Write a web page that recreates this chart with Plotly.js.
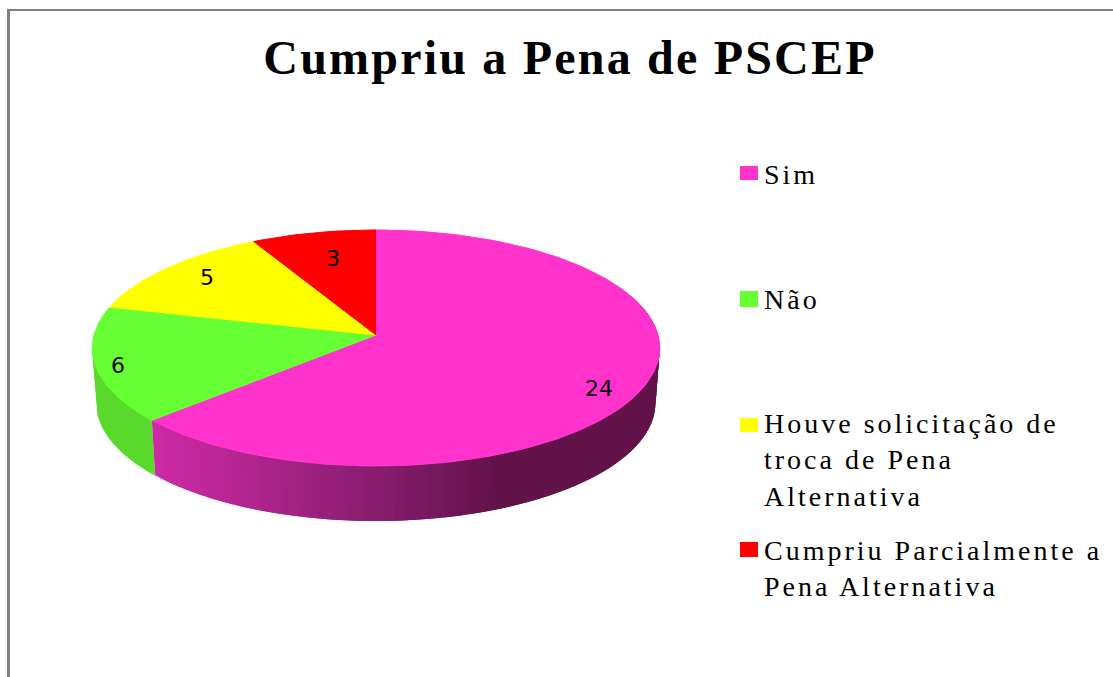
<!DOCTYPE html>
<html>
<head>
<meta charset="utf-8">
<script src="https://cdn.plot.ly/plotly-3.0.1.min.js"></script>
<style>
body{margin:0;background:#fff;}
#graph{width:1113px;height:677px;}
/* the original text is stretched sideways */
.gtitle{letter-spacing:2.2px;}
.annotation[data-index="4"] text,
.annotation[data-index="5"] text,
.annotation[data-index="6"] text,
.annotation[data-index="7"] text{letter-spacing:3px;}
</style>
</head>
<body>
<div id="graph"></div>
<script>
const categories = ["Sim", "Não", "Houve solicitação de<br>troca de Pena<br>Alternativa", "Cumpriu Parcialmente a<br>Pena Alternativa"];
const values = [24, 6, 5, 3];
const sliceColors = ["#FF33CC", "#66FF33", "#FFFF00", "#FF0000"];
const wallGreen = "#58D92C";

// the tilted disc: pixel centre, radius, perspective and wall height
const cx = 376, cy = 335, sx = 282, sy = 116.6, persp = 0.11, wall = 55;
const labelRadius = [0.83, 0.92, 0.8, 0.66];
const labelShift = [-13, -3, 3, 7];
const legendY = [173, 299, 425, 549.5];
const legendH = [14, 16, 14, 15];
const legendTextY = [174, 299, 460, 568];

const total = values.reduce((a, b) => a + b, 0);
let bounds = [0];
values.forEach(v => bounds.push(bounds[bounds.length - 1] + v / total * 360));

// angle in degrees, clockwise from the top of the disc
function rim(deg, r, drop) {
    let t = deg * Math.PI / 180;
    let u = Math.sin(t) * r, v = Math.cos(t) * r;
    let k = drop ? 0.985 : 1;
    return [cx + k * sx * u / (1 + persp * v), cy - sy * v / (1 + persp * v) + drop];
}

function arc(from, to, drop) {
    let pts = [];
    let n = Math.max(2, Math.ceil(Math.abs(to - from) / 1.5));
    for (let i = 0; i <= n; i++) pts.push(rim(from + (to - from) * i / n, 1, drop));
    return pts;
}

function polygon(pts, color, width) {
    return {
        x: pts.map(p => p[0]),
        y: pts.map(p => p[1]),
        type: "scatter",
        mode: "lines",
        fill: "toself",
        fillcolor: color,
        line: {color: color, width: width},
        hoverinfo: "skip",
        showlegend: false
    };
}

function wallPink(x) {
    const stops = [[150, 206, 42, 166], [380, 132, 28, 106], [490, 98, 19, 74]];
    if (x <= stops[0][0]) return `rgb(${stops[0][1]},${stops[0][2]},${stops[0][3]})`;
    for (let i = 1; i < stops.length; i++) {
        if (x <= stops[i][0]) {
            let f = (x - stops[i - 1][0]) / (stops[i][0] - stops[i - 1][0]);
            let c = [1, 2, 3].map(j => Math.round(stops[i - 1][j] + f * (stops[i][j] - stops[i - 1][j])));
            return `rgb(${c.join(",")})`;
        }
    }
    return "rgb(98,19,74)";
}

let traces = [];

// side wall, green stops at the leftmost point of the rim
const leftEdge = 264;
traces.push(polygon(arc(bounds[1], leftEdge, 0).concat(arc(leftEdge, bounds[1], wall)), wallGreen, 1));
// pink part in strips for the shading, each one runs under the next to hide the seams
for (let a = 70; a < bounds[1]; a += 1.5) {
    let b = Math.min(a + 1.5, bounds[1]);
    let over = Math.max(a - 1.5, 70);
    let top = arc(over, b, 0);
    traces.push(polygon(top.concat(arc(b, over, wall)), wallPink((rim(a, 1, 0)[0] + rim(b, 1, 0)[0]) / 2), 0));
}

// top face
values.forEach((v, i) => {
    traces.push(polygon([[cx, cy]].concat(arc(bounds[i], bounds[i + 1], 0)), sliceColors[i], 1));
});

let annotations = values.map((v, i) => {
    let p = rim((bounds[i] + bounds[i + 1]) / 2, labelRadius[i], 0);
    return {
        x: p[0], y: p[1], yshift: labelShift[i], text: String(v), showarrow: false,
        font: {family: "DejaVu Sans", size: 22, color: "#000"}
    };
});

categories.forEach((c, i) => {
    annotations.push({
        x: 762, y: legendTextY[i], xanchor: "left", yanchor: "middle", align: "left",
        text: c, showarrow: false,
        font: {family: "Liberation Serif", size: 28, color: "#000"}
    });
});

let shapes = [
    {type: "rect", x0: 7, x1: 10, y0: 9, y1: 677, fillcolor: "#808080", line: {width: 0}},
    {type: "rect", x0: 7, x1: 1113, y0: 9, y1: 11, fillcolor: "#808080", line: {width: 0}}
];
legendY.forEach((y, i) => {
    shapes.push({type: "rect", x0: 740, x1: 758, y0: y - legendH[i] / 2, y1: y + legendH[i] / 2, fillcolor: sliceColors[i], line: {width: 0}});
});

let myLayout = {
    width: 1113,
    height: 677,
    margin: {l: 0, r: 0, t: 0, b: 0},
    paper_bgcolor: "#fff",
    plot_bgcolor: "#fff",
    title: {
        text: "<b>Cumpriu a Pena de PSCEP</b>",
        x: 570 / 1113, xanchor: "center",
        y: 1 - 57 / 677, yanchor: "middle",
        font: {family: "Liberation Serif", size: 48, color: "#000"}
    },
    xaxis: {range: [0, 1113], visible: false, fixedrange: true},
    yaxis: {range: [677, 0], visible: false, fixedrange: true},
    showlegend: false,
    annotations: annotations,
    shapes: shapes
};

Plotly.newPlot("graph", traces, myLayout, {displayModeBar: false, staticPlot: true});
</script>
</body>
</html>
